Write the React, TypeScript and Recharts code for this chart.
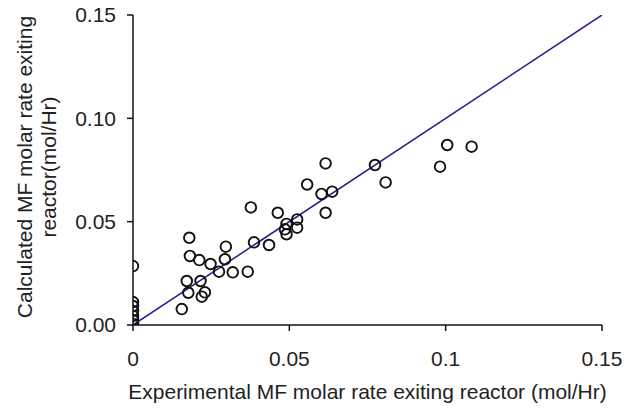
import { ScatterChart, Scatter, XAxis, YAxis, Label } from 'recharts';

// experimental (x) vs calculated (y) MF molar rate, mol/Hr
const experimental = [
  0, 0, 0, 0, 0, 0, 0,
  0.0156, 0.0172, 0.0177, 0.018, 0.0182, 0.0212, 0.0216, 0.023, 0.022,
  0.0248, 0.0275, 0.0294, 0.0297, 0.0319, 0.0367, 0.0377, 0.0387, 0.0435,
  0.0463, 0.0491, 0.0486, 0.0491, 0.0525, 0.0525, 0.0557, 0.0603, 0.0616,
  0.0616, 0.0637, 0.0774, 0.0808, 0.0982, 0.1005, 0.1083,
];
const calculated = [
  0.0285, 0.0111, 0.0092, 0.0068, 0.0044, 0.0024, 0.0005,
  0.0077, 0.0213, 0.0156, 0.0422, 0.0334, 0.0314, 0.0213, 0.0158, 0.0137,
  0.0295, 0.0258, 0.0318, 0.0379, 0.0255, 0.0258, 0.0569, 0.04, 0.0387,
  0.0543, 0.0489, 0.0463, 0.0439, 0.0511, 0.0471, 0.068, 0.0634, 0.0543,
  0.0782, 0.0645, 0.0774, 0.069, 0.0766, 0.0871, 0.0863,
];
const parityLine = [0, 0.15];
const xTicks = [0, 0.05, 0.1, 0.15];
const yTicks = [0, 0.05, 0.1, 0.15];

const points = experimental.map((x, i) => ({ x, y: calculated[i] }));
const lineData = parityLine.map((v) => ({ x: v, y: v }));

const FONT = 'Liberation Sans, Arial, sans-serif';

const OpenCircle = (props: any) => {
  const { cx, cy } = props;
  return <circle cx={cx} cy={cy} r={5.3} fill="none" stroke="#111" strokeWidth={1.9} />;
};

const YTitle = (props: any) => {
  const vb = props.viewBox || {};
  const cy = vb.y + vb.height / 2 - 3;
  return (
    <g fontFamily={FONT} fontSize={21} fill="#222">
      <text x={32} y={cy} transform={`rotate(-90 32 ${cy})`} textAnchor="middle">
        Calculated MF molar rate exiting
      </text>
      <text x={56} y={cy} transform={`rotate(-90 56 ${cy})`} textAnchor="middle">
        reactor(mol/Hr)
      </text>
    </g>
  );
};

export default function App() {
  return (
    <div style={{ position: 'absolute', left: 0, top: 0, background: '#fff' }}>
      <ScatterChart
        width={637}
        height={409}
        margin={{ top: 15, right: 35, left: 0, bottom: 0 }}
      >
        <XAxis
          type="number"
          dataKey="x"
          domain={[0, 0.15]}
          ticks={xTicks}
          tickFormatter={(v: number) => String(v)}
          height={84}
          tickSize={6}
          tickMargin={20}
          axisLine={{ stroke: '#111', strokeWidth: 1.5 }}
          tickLine={{ stroke: '#111', strokeWidth: 1.5 }}
          tick={{ fill: '#222', fontSize: 21, fontFamily: FONT }}
          allowDataOverflow
        >
          <Label
            value="Experimental MF molar rate exiting reactor (mol/Hr)"
            position="insideBottom"
            offset={10}
            style={{ fill: '#222', fontSize: 21, fontFamily: FONT }}
          />
        </XAxis>
        <YAxis
          type="number"
          dataKey="y"
          domain={[0, 0.15]}
          ticks={yTicks}
          tickFormatter={(v: number) => v.toFixed(2)}
          width={133}
          tickSize={6}
          tickMargin={11}
          axisLine={{ stroke: '#111', strokeWidth: 1.5 }}
          tickLine={{ stroke: '#111', strokeWidth: 1.5 }}
          tick={{ fill: '#222', fontSize: 21, fontFamily: FONT }}
          allowDataOverflow
        >
          <Label content={<YTitle />} />
        </YAxis>
        <Scatter
          data={lineData}
          line={{ stroke: '#1f1f8f', strokeWidth: 1.5 }}
          shape={() => null}
          isAnimationActive={false}
        />
        <Scatter data={points} shape={<OpenCircle />} isAnimationActive={false} />
      </ScatterChart>
    </div>
  );
}
